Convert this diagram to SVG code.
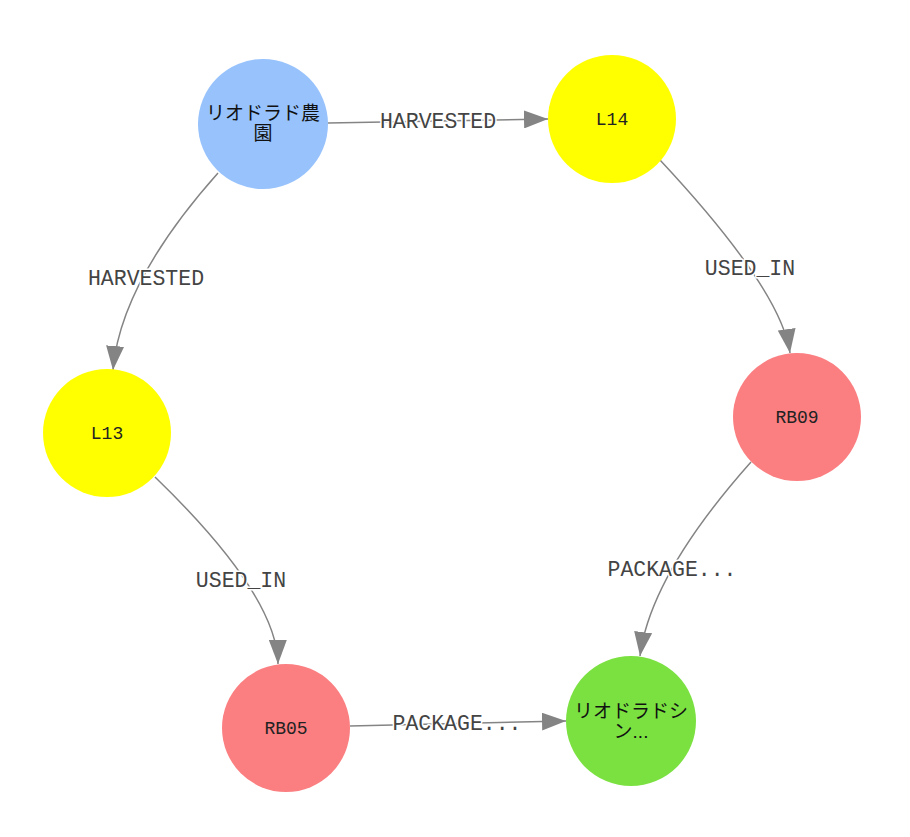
<svg xmlns="http://www.w3.org/2000/svg" width="910" height="837" viewBox="0 0 910 837">
<style>
.edge{fill:none;stroke:#848484;stroke-width:1.5}
.elabel{font-family:"Liberation Mono","Courier New",monospace;font-size:21.5px;fill:#444;text-anchor:middle;stroke:#fff;stroke-width:3;paint-order:stroke;stroke-linejoin:round}
.nlabel{font-family:"Liberation Mono","Courier New",monospace;font-size:18px;fill:#222;text-anchor:middle}
.jlabel{font-family:"Liberation Sans","Noto Sans CJK JP",sans-serif;font-size:19px;fill:#111;text-anchor:middle}
</style>
<defs>
<marker id="arr" viewBox="0 0 24 18" refX="24" refY="9" markerWidth="24" markerHeight="18" markerUnits="userSpaceOnUse" orient="auto">
<path d="M0,0 L24,9 L0,18 Z" fill="#848484"/>
</marker>
</defs>
<rect width="910" height="837" fill="#fff"/>
<g id="connectors">
<path class="edge" d="M328,123 L548,119" marker-end="url(#arr)"/>
<path class="edge" d="M218,173 Q120.5,282.5 113,370" marker-end="url(#arr)"/>
<path class="edge" d="M660,160 Q781,289.5 790,353" marker-end="url(#arr)"/>
<path class="edge" d="M155,477 Q277.5,595.5 278,664" marker-end="url(#arr)"/>
<path class="edge" d="M751,462 Q650.5,575 640,656" marker-end="url(#arr)"/>
<path class="edge" d="M350,726 L566,721" marker-end="url(#arr)"/>
<text class="elabel" x="438" y="128">HARVESTED</text>
<text class="elabel" x="146" y="285">HARVESTED</text>
<text class="elabel" x="750" y="275">USED_IN</text>
<text class="elabel" x="241" y="587">USED_IN</text>
<text class="elabel" x="672" y="576">PACKAGE...</text>
<text class="elabel" x="457" y="730">PACKAGE...</text>
</g>
<g id="node-farm">
<circle cx="263" cy="124" r="65" fill="#97c2fc"/>
<text class="jlabel" x="263" y="120">リオドラド農</text>
<text class="jlabel" x="263" y="140">園</text>
</g>
<g id="node-L14">
<circle cx="612" cy="119" r="64" fill="#ffff00"/>
<text class="nlabel" x="612" y="125">L14</text>
</g>
<g id="node-L13">
<circle cx="107" cy="433" r="64" fill="#ffff00"/>
<text class="nlabel" x="107" y="439">L13</text>
</g>
<g id="node-RB09">
<circle cx="797" cy="417" r="64" fill="#fb7e81"/>
<text class="nlabel" x="797" y="423">RB09</text>
</g>
<g id="node-RB05">
<circle cx="286" cy="728" r="64" fill="#fb7e81"/>
<text class="nlabel" x="286" y="734">RB05</text>
</g>
<g id="node-product">
<circle cx="631" cy="721" r="65" fill="#7be141"/>
<text class="jlabel" x="631" y="718">リオドラドシ</text>
<text class="jlabel" x="631" y="738">ン...</text>
</g>
</svg>
